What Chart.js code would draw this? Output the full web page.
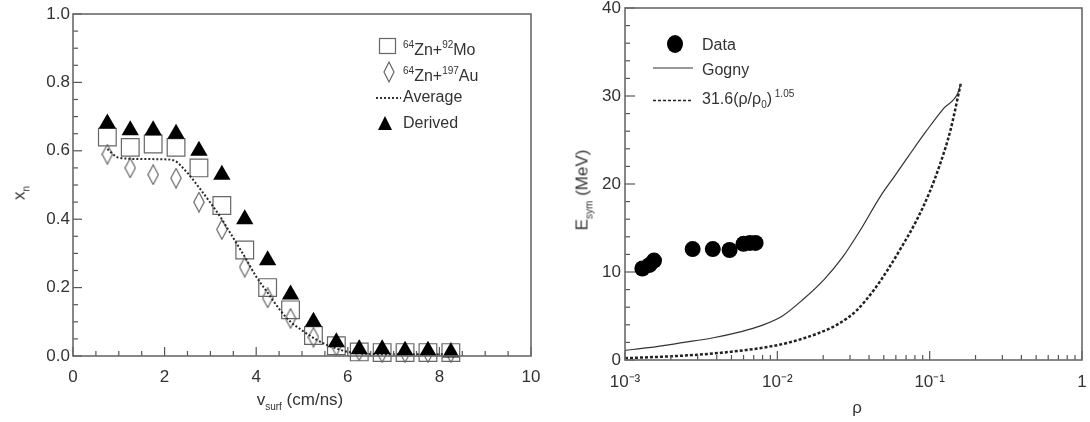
<!DOCTYPE html>
<html>
<head>
<meta charset="utf-8">
<script src="https://cdn.jsdelivr.net/npm/chart.js@4.4.0/dist/chart.umd.min.js"></script>
<style>
  body { margin: 0; background: #fff; width: 1090px; height: 422px; overflow: hidden; position: relative;
         font-family: "Liberation Sans", Arial, sans-serif; color: #333; }
  canvas { position: absolute; top: 0; }
  #c1 { left: 0; }
  #c2 { left: 545px; }
  .txt { position: absolute; white-space: nowrap; font-size: 16px; line-height: 16px; }
  .txt sup { font-size: 10px; line-height: 0; vertical-align: 7px; }
  .txt sub { font-size: 10px; line-height: 0; vertical-align: -4px; }
  .ttl { position: absolute; white-space: nowrap; font-size: 17px; line-height: 17px; transform: translate(-50%, -50%); }
  .ttl.rot { transform: translate(-50%, -50%) rotate(-90deg); }
  .ttl sub { font-size: 10px; line-height: 0; vertical-align: -5px; }
  svg.sym { position: absolute; overflow: visible; }
</style>
</head>
<body>
<canvas id="c1" width="545" height="422"></canvas>
<canvas id="c2" width="545" height="422"></canvas>

<!-- legende gauche -->
<svg class="sym" style="left:379px;top:38px" width="17" height="16"><rect x="0.5" y="0.5" width="16" height="15" fill="none" stroke="#666" stroke-width="1.2"/></svg>
<div class="txt" style="left:403px;top:42px"><sup>64</sup>Zn+<sup>92</sup>Mo</div>
<svg class="sym" style="left:384px;top:62px" width="10" height="20"><polygon points="5,0 10,10 5,20 0,10" fill="none" stroke="#666" stroke-width="1.2"/></svg>
<div class="txt" style="left:403px;top:68px"><sup>64</sup>Zn+<sup>197</sup>Au</div>
<svg class="sym" style="left:376px;top:96px" width="25" height="4"><line x1="0" y1="2" x2="25" y2="2" stroke="#333" stroke-width="2" stroke-dasharray="2,2"/></svg>
<div class="txt" style="left:403px;top:89px">Average</div>
<svg class="sym" style="left:378px;top:116px" width="14" height="14"><polygon points="7,0 14,14 0,14" fill="#000"/></svg>
<div class="txt" style="left:403px;top:115px">Derived</div>

<!-- legende droite -->
<svg class="sym" style="left:667px;top:35px" width="16" height="18"><ellipse cx="8" cy="9" rx="8" ry="9" fill="#000"/></svg>
<div class="txt" style="left:702px;top:37px">Data</div>
<svg class="sym" style="left:653px;top:67px" width="40" height="2"><line x1="0" y1="1" x2="40" y2="1" stroke="#333" stroke-width="1.2"/></svg>
<div class="txt" style="left:702px;top:62px">Gogny</div>
<svg class="sym" style="left:653px;top:99px" width="40" height="3"><line x1="0" y1="1.5" x2="40" y2="1.5" stroke="#222" stroke-width="1.6" stroke-dasharray="3,2"/></svg>
<div class="txt" style="left:702px;top:91px">31.6(&rho;/&rho;<sub>0</sub>)<sup>&nbsp;1.05</sup></div>

<!-- titres des axes -->
<div class="ttl rot" style="left:19px;top:193px">x<sub>n</sub></div>
<div class="ttl" style="left:300px;top:399px">v<sub>surf</sub> (cm/ns)</div>
<div class="ttl rot" style="left:582px;top:190px">E<sub>sym</sub> (MeV)</div>
<div class="ttl" style="left:857px;top:407px">&rho;</div>

<script>
// ---- panneau gauche : x_n en fonction de v_surf ----
const vSurf = [0.75, 1.25, 1.75, 2.25, 2.75, 3.25, 3.75, 4.25, 4.75, 5.25, 5.75, 6.25, 6.75, 7.25, 7.75, 8.25];
const xnMo      = [0.64, 0.61, 0.62, 0.61, 0.55, 0.44, 0.31, 0.20, 0.135, 0.06, 0.03, 0.012, 0.01, 0.01, 0.01, 0.01];
const xnAu      = [0.59, 0.55, 0.53, 0.52, 0.45, 0.37, 0.26, 0.17, 0.11, 0.055, 0.03, 0.015, 0.01, 0.01, 0.01, 0.01];
const xnDerived = [0.68, 0.66, 0.66, 0.65, 0.60, 0.53, 0.40, 0.28, 0.18, 0.10, 0.04, 0.02, 0.02, 0.015, 0.015, 0.01];

const avgV  = [0.75, 1.0, 1.5, 2.0, 2.2, 2.5, 2.75, 3.0, 3.25, 3.5, 3.75, 4.0, 4.25, 4.5, 4.75, 5.0, 5.25, 5.5, 5.75, 6.0, 6.5, 7.0, 7.5, 8.0, 8.3];
const avgXn = [0.605, 0.58, 0.576, 0.575, 0.572, 0.535, 0.493, 0.448, 0.40, 0.345, 0.29, 0.232, 0.185, 0.138, 0.10, 0.075, 0.053, 0.035, 0.022, 0.012, 0.006, 0.005, 0.005, 0.005, 0.005];

const leftXLabels = ['0', '2', '4', '6', '8', '10'];
const leftYLabels = ['0.0', '0.2', '0.4', '0.6', '0.8', '1.0'];

// ---- panneau droit : E_sym en fonction de rho ----
const rhoData  = [0.0013, 0.00145, 0.00155, 0.00278, 0.00377, 0.00486, 0.0060, 0.0066, 0.0072];
const esymData = [10.4, 10.8, 11.3, 12.6, 12.6, 12.5, 13.2, 13.3, 13.3];

const rhoGogny  = [0.001, 0.00143, 0.00244, 0.00373, 0.0057, 0.00783, 0.0108, 0.0148, 0.0204, 0.0266, 0.0346, 0.0475, 0.0589, 0.0728, 0.0949, 0.1236, 0.153, 0.16];
const esymGogny = [1.1, 1.4, 2.0, 2.5, 3.2, 3.9, 5.0, 6.9, 9.2, 11.6, 14.6, 18.6, 20.9, 23.2, 26.0, 28.6, 30.3, 31.4];

const rhoPower  = [0.001, 0.00244, 0.00414, 0.006, 0.00874, 0.012, 0.0183, 0.0252, 0.033, 0.0428, 0.0528, 0.0652, 0.0805, 0.0995, 0.1167, 0.1364, 0.16];
const esymPower = [0.2, 0.5, 0.8, 1.1, 1.5, 2.0, 3.0, 4.1, 5.6, 7.9, 10.2, 12.8, 15.6, 19.0, 22.2, 26.0, 31.4];

const rightYLabels = ['0', '10', '20', '30', '40'];
const rightXLabels = { '-3': '10\u207B\u00B3', '-2': '10\u207B\u00B2', '-1': '10\u207B\u00B9', '0': '1' };

const pairs = (xs, ys) => xs.map((x, i) => ({ x: x, y: ys[i] }));

// losange allonge pour 197Au
function diamondCanvas() {
    const c = document.createElement('canvas');
    c.width = 12; c.height = 21;
    const g = c.getContext('2d');
    g.strokeStyle = '#666';
    g.lineWidth = 1.2;
    g.beginPath();
    g.moveTo(6, 0.8); g.lineTo(11.2, 10.5); g.lineTo(6, 20.2); g.lineTo(0.8, 10.5);
    g.closePath();
    g.stroke();
    return c;
}

// cadre + graduations vers l'interieur (style ROOT)
function cadre(xTicks, yTicks) {
    return {
        id: 'cadre',
        afterDraw(chart) {
            const ctx = chart.ctx;
            const a = chart.chartArea;
            const sx = chart.scales.x, sy = chart.scales.y;
            ctx.save();
            ctx.setLineDash([]);
            ctx.strokeStyle = '#555';
            ctx.lineWidth = 1.2;
            for (const t of xTicks) {
                const px = sx.getPixelForValue(t[0]);
                ctx.beginPath();
                ctx.moveTo(px, a.bottom);
                ctx.lineTo(px, a.bottom - t[1]);
                ctx.stroke();
            }
            for (const t of yTicks) {
                const py = sy.getPixelForValue(t[0]);
                ctx.beginPath();
                ctx.moveTo(a.left, py);
                ctx.lineTo(a.left + t[1], py);
                ctx.stroke();
            }
            ctx.strokeStyle = '#6a6a6a';
            ctx.lineWidth = 1.6;
            ctx.strokeRect(a.left, a.top, a.right - a.left, a.bottom - a.top);
            ctx.restore();
        }
    };
}

function boite(size, horizontal) {
    return scale => {
        if (horizontal) scale.height = size; else scale.width = size;
        scale.paddingTop = scale.paddingBottom = scale.paddingLeft = scale.paddingRight = 0;
    };
}

const tickFont = { family: 'Liberation Sans', size: 17 };
const sansGrille = { display: false, drawTicks: false };

// graduations gauche
const ticksGX = [];
for (let i = 0; i <= 20; i++) ticksGX.push([i * 0.5, i % 4 === 0 ? 9 : 5]);
const ticksGY = [];
for (let i = 0; i <= 20; i++) ticksGY.push([i * 0.05, i % 4 === 0 ? 9 : 5]);

// graduations droite
const ticksDX = [];
for (let e = -3; e < 0; e++) for (let m = 1; m <= 9; m++) ticksDX.push([m * Math.pow(10, e), m === 1 ? 9 : 5]);
ticksDX.push([1, 9]);
const ticksDY = [];
for (let v = 0; v <= 40; v += 2) ticksDY.push([v, v % 10 === 0 ? 10 : 5]);

new Chart(document.getElementById('c1'), {
    type: 'scatter',
    data: {
        datasets: [
            {
                label: 'Derived',
                data: pairs(vSurf, xnDerived),
                pointStyle: 'triangle',
                pointRadius: 10,
                backgroundColor: '#000',
                borderColor: '#000',
                borderWidth: 0,
                clip: false,
                order: 0
            },
            {
                label: 'Average',
                data: pairs(avgV, avgXn),
                showLine: true,
                pointRadius: 0,
                borderColor: '#2a2a2a',
                borderWidth: 2,
                borderDash: [2, 2],
                cubicInterpolationMode: 'monotone',
                order: 1
            },
            {
                label: '64Zn+197Au',
                data: pairs(vSurf, xnAu),
                pointStyle: diamondCanvas(),
                clip: false,
                order: 2
            },
            {
                label: '64Zn+92Mo',
                data: pairs(vSurf, xnMo),
                pointStyle: 'rect',
                pointRadius: 12.5,
                backgroundColor: 'rgba(0,0,0,0)',
                borderColor: '#666',
                borderWidth: 1.2,
                clip: false,
                order: 3
            }
        ]
    },
    options: {
        responsive: false,
        animation: false,
        events: [],
        layout: { padding: { left: 0, top: 14, right: 14, bottom: 0 } },
        plugins: {
            legend: { display: false },
            tooltip: { enabled: false }
        },
        scales: {
            x: {
                type: 'linear', min: 0, max: 10,
                grid: sansGrille, border: { display: false },
                ticks: { stepSize: 2, font: tickFont, color: '#333', padding: 11, maxRotation: 0,
                         callback: (v, i) => leftXLabels[i] },
                afterFit: boite(66, true)
            },
            y: {
                type: 'linear', min: 0, max: 1,
                grid: sansGrille, border: { display: false },
                ticks: { stepSize: 0.2, font: tickFont, color: '#333', padding: 3,
                         callback: (v, i) => leftYLabels[i] },
                afterFit: boite(73, false)
            }
        }
    },
    plugins: [cadre(ticksGX, ticksGY)]
});

new Chart(document.getElementById('c2'), {
    type: 'scatter',
    data: {
        datasets: [
            {
                label: 'Data',
                data: pairs(rhoData, esymData),
                pointStyle: 'circle',
                pointRadius: 8,
                backgroundColor: '#000',
                borderWidth: 0,
                clip: false,
                order: 0
            },
            {
                label: 'Gogny',
                data: pairs(rhoGogny, esymGogny),
                showLine: true,
                pointRadius: 0,
                borderColor: '#333',
                borderWidth: 1.2,
                cubicInterpolationMode: 'monotone',
                order: 1
            },
            {
                label: '31.6(rho/rho0)^1.05',
                data: pairs(rhoPower, esymPower),
                showLine: true,
                pointRadius: 0,
                borderColor: '#222',
                borderWidth: 2.5,
                borderDash: [3, 2],
                cubicInterpolationMode: 'monotone',
                order: 2
            }
        ]
    },
    options: {
        responsive: false,
        animation: false,
        events: [],
        layout: { padding: { left: 0, top: 5, right: 7, bottom: 0 } },
        plugins: {
            legend: { display: false },
            tooltip: { enabled: false }
        },
        scales: {
            x: {
                type: 'logarithmic', min: 0.001, max: 1,
                grid: sansGrille, border: { display: false },
                ticks: {
                    font: tickFont, color: '#333', padding: 12, maxRotation: 0, autoSkip: false,
                    callback: v => {
                        const e = Math.log10(v);
                        if (Math.abs(e - Math.round(e)) > 1e-6) return null;
                        return rightXLabels[String(Math.round(e))];
                    }
                },
                afterFit: boite(62, true)
            },
            y: {
                type: 'linear', min: 0, max: 40,
                grid: sansGrille, border: { display: false },
                ticks: { stepSize: 10, font: tickFont, color: '#333', padding: 4,
                         callback: (v, i) => rightYLabels[i] },
                afterFit: boite(80, false)
            }
        }
    },
    plugins: [cadre(ticksDX, ticksDY)]
});
</script>
</body>
</html>
